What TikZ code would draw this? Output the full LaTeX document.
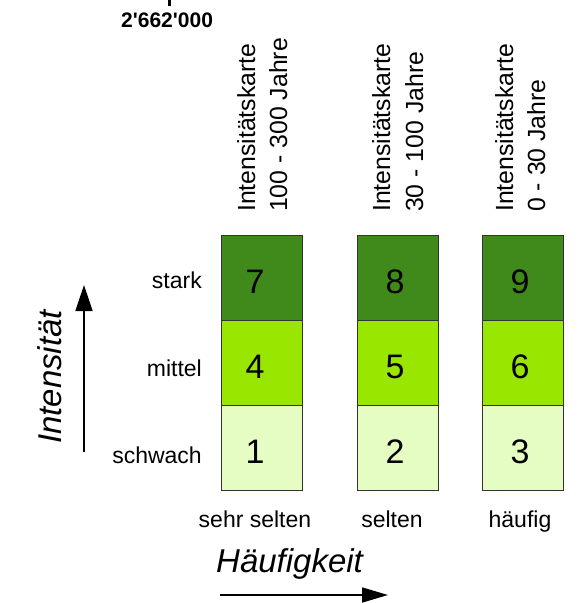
\documentclass[tikz,border=0pt]{standalone}
\usepackage{fontspec}
\setmainfont{Liberation Sans}
\newfontfamily\plainsans{Liberation Sans}[Ligatures=TeXOff]
\usetikzlibrary{arrows.meta}
\definecolor{dk}{HTML}{3F8A1A}
\definecolor{md}{HTML}{99E600}
\definecolor{lt}{HTML}{E5FCC2}
\tikzset{
  cell/.style={draw=black!80, line width=0.9pt, minimum width=81pt, minimum height=85pt, inner sep=0pt, outer sep=0pt},
  num/.style={font=\fontsize{34}{36}\selectfont, anchor=base, inner sep=0pt},
  rowlab/.style={font=\fontsize{23}{26}\selectfont, anchor=base east, inner sep=0pt},
  collab/.style={font=\fontsize{23}{26}\selectfont, anchor=base, inner sep=0pt},
  vlab/.style={font=\fontsize{24.8}{28}\selectfont, rotate=90, anchor=base west, inner sep=0pt},
  axlab/.style={font=\fontsize{33}{36}\selectfont\itshape, inner sep=0pt},
  axarrow/.style={line width=1.6pt, -{Triangle[length=26pt, width=17pt]}}
}
\begin{document}
\begin{tikzpicture}[x=1pt, y=-1pt]
\useasboundingbox (0,0) rectangle (582,603);
% top fragment
\draw[line width=3pt] (169,0) -- (169,6);
\node[font=\plainsans\fontsize{21}{24}\selectfont\bfseries, anchor=base west, inner sep=0pt] (coord) at (121,27) {2'662'000};
% cells
\foreach \c/\xl/\xn/\a/\b/\d in {1/221/255/7/4/1, 2/357/395/8/5/2, 3/482/520/9/6/3}{
  \node[cell, fill=dk, anchor=north west] (t\c) at (\xl,235) {};
  \node[cell, fill=md, anchor=north west] (m\c) at (\xl,320) {};
  \node[cell, fill=lt, anchor=north west] (b\c) at (\xl,405) {};
  \node[num] (nt\c) at (\xn,293) {\a};
  \node[num] (nm\c) at (\xn,378) {\b};
  \node[num] (nb\c) at (\xn,463) {\d};
}
% row labels
\node[rowlab] (stark) at (202,288) {stark};
\node[rowlab] (mittel) at (202,376) {mittel};
\node[rowlab] (schwach) at (202,463) {schwach};
% column labels
\node[collab] (c1) at (255,527) {sehr selten};
\node[collab] (c2) at (392,527) {selten};
\node[collab] (c3) at (520,527) {häufig};
% vertical labels
\node[vlab] (v1a) at (255,212) {Intensitätskarte};
\node[vlab] (v1b) at (287,212) {100 - 300 Jahre};
\node[vlab] (v2a) at (390,212) {Intensitätskarte};
\node[vlab] (v2b) at (423,212) {30 - 100 Jahre};
\node[vlab] (v3a) at (513,212) {Intensitätskarte};
\node[vlab] (v3b) at (545,212) {0 - 30 Jahre};
% axes
\coordinate (ys) at (84,452);
\coordinate (ye) at (84,285);
\draw[axarrow] (ys) -- (ye);
\node[axlab, rotate=90, anchor=base] (intens) at (61,377) {Intensität};
\coordinate (xs) at (220,595);
\coordinate (xe) at (388,595);
\draw[axarrow, -{Triangle[length=26pt, width=15pt]}] (xs) -- (xe);
\node[axlab, anchor=base west] (haeuf) at (216,572) {Häufigkeit};
\end{tikzpicture}
\end{document}
